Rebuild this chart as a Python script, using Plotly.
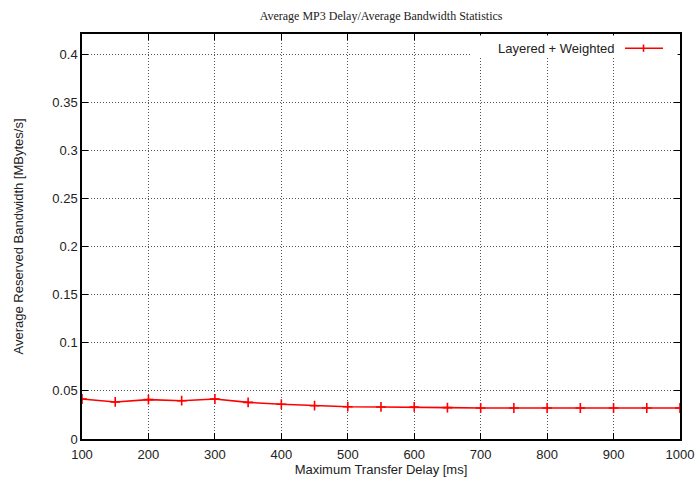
import plotly.graph_objects as go

# Maximum transfer delay [ms] and the mean reserved bandwidth [MBytes/s]
delay_ms = [100, 150, 200, 250, 300, 350, 400, 450, 500, 550,
            600, 650, 700, 750, 800, 850, 900, 950, 1000]
bandwidth = [0.0416, 0.0385, 0.0409, 0.0398, 0.0416, 0.0381, 0.0361, 0.0346, 0.0336, 0.0333,
             0.0333, 0.0326, 0.0323, 0.0322, 0.0322, 0.0322, 0.0322, 0.0322, 0.0322]
series_name = "Layered + Weighted"

x_ticks = [100, 200, 300, 400, 500, 600, 700, 800, 900, 1000]
y_ticks = [0, 0.05, 0.1, 0.15, 0.2, 0.25, 0.3, 0.35, 0.4]
y_tick_text = ["0", "0.05", "0.1", "0.15", "0.2", "0.25", "0.3", "0.35", "0.4"]

RED = "#ff0000"
GRID = "#555555"
SANS = "Liberation Sans, Arial, sans-serif"

fig = go.Figure()
fig.add_trace(go.Scatter(
    x=delay_ms, y=bandwidth, name=series_name, mode="lines+markers",
    line=dict(color=RED, width=1.6),
    marker=dict(symbol="cross-thin", size=7, color=RED,
                line=dict(color=RED, width=1.6)),
    showlegend=False,
))

axis_common = dict(
    showline=True, linecolor="black", linewidth=1.5, mirror="allticks",
    ticks="inside", ticklen=6, tickwidth=1, tickcolor="black",
    showgrid=True, gridcolor=GRID, griddash="1px,2px", gridwidth=1,
    zeroline=False, automargin=False,
    tickfont=dict(family=SANS, size=13, color="#222"),
)

fig.update_xaxes(range=[100, 1000], tickvals=x_ticks, ticklabelstandoff=3,
                 title=dict(text="Maximum Transfer Delay [ms]", standoff=4,
                            font=dict(family=SANS, size=13, color="#222")),
                 **axis_common)
fig.update_yaxes(range=[0, 0.421], tickvals=y_ticks, ticktext=y_tick_text,
                 title=dict(text="Average Reserved Bandwidth [MBytes/s]", standoff=26,
                            font=dict(family=SANS, size=13, color="#222")),
                 **axis_common)

# key in the upper right corner: text followed by a line sample
fig.add_shape(type="rect", xref="paper", yref="paper",
              x0=0.649, x1=0.996, y0=0.943, y1=0.996,
              fillcolor="white", line=dict(width=0), layer="above")
fig.add_shape(type="line", xref="paper", yref="paper",
              x0=0.908, x1=0.9716, y0=0.965, y1=0.965,
              line=dict(color=RED, width=1.6), layer="above")
fig.add_shape(type="line", xref="paper", yref="paper",
              x0=0.939, x1=0.939, y0=0.956, y1=0.974,
              line=dict(color=RED, width=1.6), layer="above")
fig.add_annotation(text=series_name, xref="paper", yref="paper",
                   x=0.893, y=0.965, xanchor="right", yanchor="middle",
                   showarrow=False, font=dict(family=SANS, size=13, color="#222"))

fig.update_layout(
    width=698, height=486,
    margin=dict(l=82, r=18, t=34, b=47),
    paper_bgcolor="white", plot_bgcolor="white",
    title=dict(text="Average MP3 Delay/Average Bandwidth Statistics",
               x=0.546, xanchor="center", y=0.967, yanchor="middle",
               font=dict(family="Liberation Serif, Times New Roman, serif", size=12, color="#222")),
)

fig.write_html("out.html")
